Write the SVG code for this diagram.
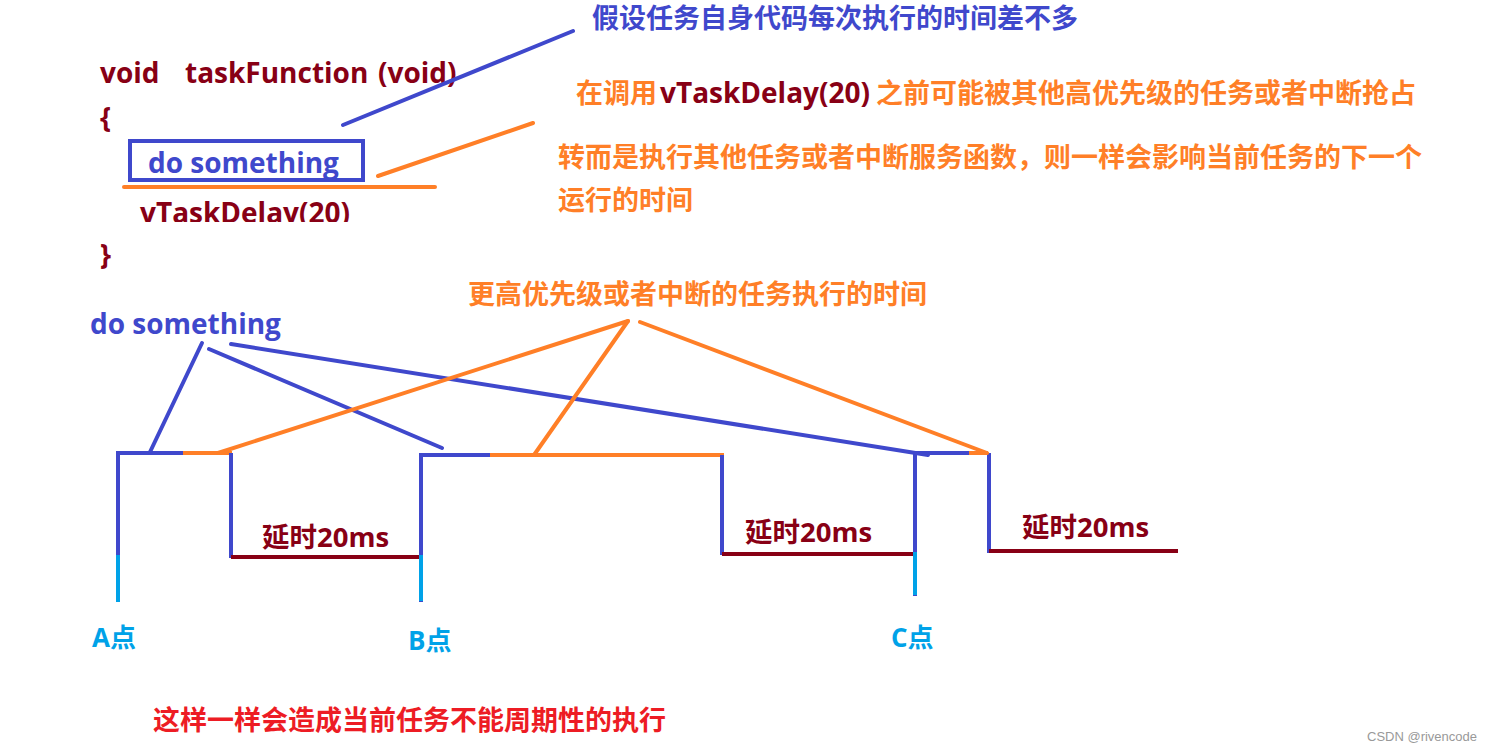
<svg xmlns="http://www.w3.org/2000/svg" width="1500" height="752" viewBox="0 0 1500 752">
<style>
text{font-family:"Open Sans","Noto Sans CJK SC",sans-serif;font-weight:bold}
text.wm{font-family:"Liberation Sans",Arial,sans-serif;font-weight:normal;font-size:13px;fill:#999}
.code{font-size:28px;fill:#880015}
.blue{fill:#3f48cc}
.org{fill:#ff7f27;font-size:27px}
.cn{font-size:27px}
.pt{fill:#00a2e8;font-size:26px}
.dl{fill:#880015;font-size:27.5px}
.ln{fill:none;stroke-width:4;stroke-linecap:butt}
.b{stroke:#3f48cc}.o{stroke:#ff7f27}.r{stroke:#880015}.c{stroke:#00a2e8}
</style>
<defs>
<clipPath id="cut"><rect x="0" y="190" width="600" height="32"/></clipPath>
</defs>
<rect width="1500" height="752" fill="#fff"/>

<g id="code">
<text class="code" y="83"><tspan x="100">void</tspan><tspan x="185">taskFunction</tspan><tspan x="378">(void)</tspan></text>
<text class="code" x="100" y="128">{</text>
<text class="code" x="140" y="223" clip-path="url(#cut)">vTaskDelay(20)</text>
<text class="code" x="100" y="265">}</text>
</g>

<g id="do-something-box">
<rect x="130" y="141" width="233" height="39" fill="none" stroke="#3f48cc" stroke-width="4"/>
<text class="blue" x="148" y="173" font-size="28">do something</text>
</g>

<g id="note-same-time">
<text class="blue cn" x="592" y="28">假设任务自身代码每次执行的时间差不多</text>
</g>

<g id="note-preempt">
<text class="org" x="576" y="103">在调用</text>
<text class="code" x="660" y="103">vTaskDelay(20)</text>
<text class="org" x="876" y="103">之前可能被其他高优先级的任务或者中断抢占</text>
<text class="org" x="558" y="167">转而是执行其他任务或者中断服务函数，则一样会影响当前任务的下一个</text>
<text class="org" x="558" y="210">运行的时间</text>
</g>

<g id="note-higher">
<text class="org" x="468" y="304">更高优先级或者中断的任务执行的时间</text>
</g>

<g id="label-do-something">
<text class="blue" x="90" y="334" font-size="28">do something</text>
</g>

<g id="timeline-A">
<path class="ln b" d="M118 602V453H183"/>
<path class="ln o" d="M183 453H232"/>
<path class="ln b" d="M231 453V558"/>
<path class="ln r" d="M231 557H420"/>
<path class="ln c" d="M118 555V602" stroke-linecap="round"/>
<text class="pt" x="92" y="647">A点</text>
<text class="dl" x="262" y="547">延时20ms</text>
</g>

<g id="timeline-B">
<path class="ln b" d="M421 602V455H490"/>
<path class="ln o" d="M490 455H724"/>
<path class="ln b" d="M722 455V555"/>
<path class="ln r" d="M722 554H913"/>
<path class="ln c" d="M421 555V601" stroke-linecap="round"/>
<text class="pt" x="408" y="650">B点</text>
<text class="dl" x="745" y="542">延时20ms</text>
</g>

<g id="timeline-C">
<path class="ln b" d="M915 596V453H970"/>
<path class="ln o" d="M969 453H988"/>
<path class="ln b" d="M989 453V553"/>
<path class="ln r" d="M989 551H1178"/>
<path class="ln c" d="M915 552V595" stroke-linecap="round"/>
<text class="pt" x="891" y="647">C点</text>
<text class="dl" x="1022" y="537">延时20ms</text>
</g>

<g id="conclusion">
<text x="153" y="730" font-size="27" fill="#ed1c24">这样一样会造成当前任务不能周期性的执行</text>
</g>

<g id="watermark">
<text class="wm" x="1367" y="741">CSDN @rivencode</text>
</g>

<g id="connectors" stroke-width="4" stroke-linecap="round" fill="none">
<line x1="343" y1="125" x2="573" y2="31" stroke="#3f48cc"/>
<line x1="378" y1="176" x2="533" y2="123" stroke="#ff7f27"/>
<line x1="124" y1="187" x2="435" y2="187" stroke="#ff7f27"/>
<line x1="202" y1="343" x2="150" y2="452" stroke="#3f48cc"/>
<line x1="209" y1="349" x2="442" y2="448" stroke="#3f48cc"/>
<line x1="231" y1="344" x2="928" y2="455" stroke="#3f48cc"/>
<line x1="628" y1="321" x2="218" y2="453" stroke="#ff7f27"/>
<line x1="628" y1="321" x2="534" y2="455" stroke="#ff7f27"/>
<line x1="640" y1="322" x2="987" y2="453" stroke="#ff7f27"/>
</g>
</svg>
